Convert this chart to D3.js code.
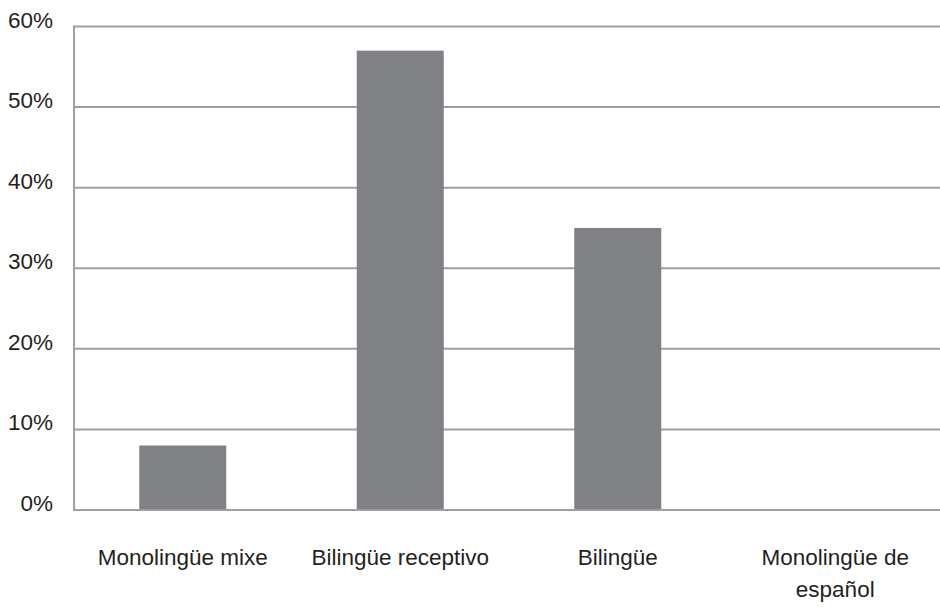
<!DOCTYPE html>
<html>
<head>
<meta charset="utf-8">
<script src="https://cdn.jsdelivr.net/npm/d3@7/dist/d3.min.js"></script>
<style>
  html, body { margin: 0; padding: 0; background: #fff; }
  svg { display: block; }
  text { font-family: "Liberation Sans", Arial, sans-serif; fill: #231f20; }
</style>
</head>
<body>
<svg id="chart" width="940" height="609"></svg>
<script>
const categories = [["Monolingüe mixe"], ["Bilingüe receptivo"], ["Bilingüe"], ["Monolingüe de", "español"]];
const values = [8, 57, 35, 0];
const yTicks = [0, 10, 20, 30, 40, 50, 60];
const yTickLabels = ["0%", "10%", "20%", "30%", "40%", "50%", "60%"];

const svg = d3.select("#chart");
const margin = { left: 74, right: -4, top: 26.5, bottom: 99 };
const W = 940, H = 609;

const x = d3.scaleBand()
  .domain(d3.range(categories.length))
  .range([margin.left, W - margin.right])
  .paddingInner(0.6)
  .paddingOuter(0.3);

const y = d3.scaleLinear()
  .domain([0, 60])
  .range([H - margin.bottom, margin.top]);

// gridlines
svg.append("g")
  .selectAll("line")
  .data(yTicks)
  .join("line")
  .attr("x1", margin.left)
  .attr("x2", W)
  .attr("y1", d => y(d))
  .attr("y2", d => y(d))
  .attr("stroke", "#9d9fa2")
  .attr("stroke-width", 2);

// left axis line
svg.append("line")
  .attr("x1", margin.left).attr("x2", margin.left)
  .attr("y1", y(60) - 1).attr("y2", y(0) + 1)
  .attr("stroke", "#9d9fa2")
  .attr("stroke-width", 2);

// y tick labels
svg.append("g")
  .selectAll("text")
  .data(yTicks)
  .join("text")
  .attr("x", margin.left - 21)
  .attr("y", d => y(d) + 1)
  .attr("text-anchor", "end")
  .attr("font-size", "22.5px")
  .text((d, i) => yTickLabels[i]);

// bars
svg.append("g")
  .selectAll("rect")
  .data(values)
  .join("rect")
  .attr("x", (d, i) => x(i))
  .attr("width", x.bandwidth())
  .attr("y", d => y(d))
  .attr("height", d => y(0) - y(d))
  .attr("fill", "#808184");

// bottom axis line
svg.append("line")
  .attr("x1", margin.left - 1).attr("x2", W)
  .attr("y1", y(0)).attr("y2", y(0))
  .attr("stroke", "#9d9fa2")
  .attr("stroke-width", 2);

// x labels
const xl = svg.append("g")
  .selectAll("text")
  .data(categories)
  .join("text")
  .attr("x", (d, i) => x(i) + x.bandwidth() / 2)
  .attr("y", 565)
  .attr("text-anchor", "middle")
  .attr("font-size", "22.5px");
xl.selectAll("tspan")
  .data(d => d)
  .join("tspan")
  .attr("x", function () { return d3.select(this.parentNode).attr("x"); })
  .attr("dy", (d, i) => i === 0 ? 0 : 32)
  .text(d => d);
</script>
</body>
</html>
